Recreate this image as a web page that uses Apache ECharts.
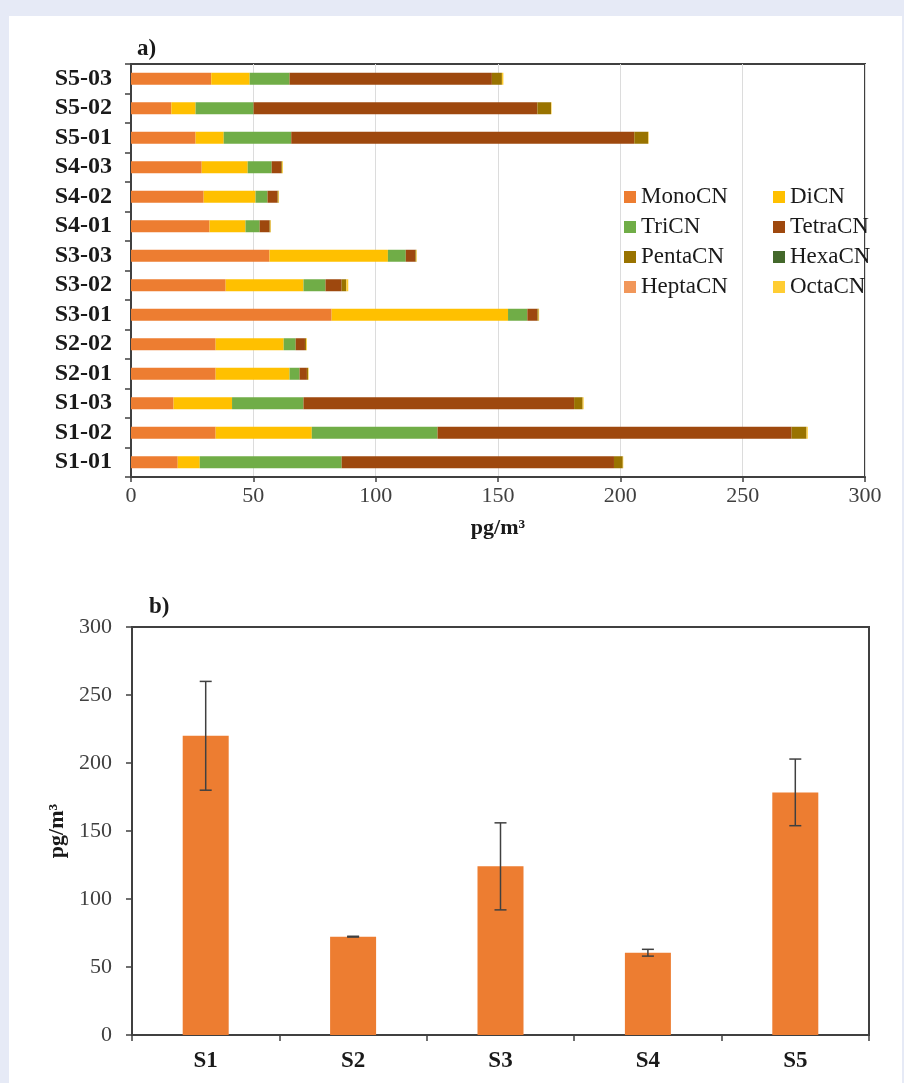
<!DOCTYPE html>
<html>
<head>
<meta charset="utf-8">
<script src="https://cdn.jsdelivr.net/npm/echarts@6/dist/echarts.min.js"></script>
<style>
  html, body { margin: 0; padding: 0; background: #e6eaf6; }
  #panel { position: absolute; left: 9px; top: 16px; width: 893px; height: 1067px; background: #fff; }
  #chart { position: absolute; left: 0; top: 0; width: 904px; height: 1083px; }
</style>
</head>
<body>
<div id="panel"></div>
<div id="chart"></div>
<script>
// a) stacked congener groups per sample
const samples = ['S1-01', 'S1-02', 'S1-03', 'S2-01', 'S2-02', 'S3-01', 'S3-02',
  'S3-03', 'S4-01', 'S4-02', 'S4-03', 'S5-01', 'S5-02', 'S5-03']
const monoCN = [19.1, 34.6, 17.4, 34.6, 34.6, 82.0, 38.7, 56.6, 32.1, 29.7, 28.9, 26.4, 16.5, 32.8]
const diCN = [9.0, 39.3, 23.9, 30.2, 27.8, 72.1, 31.8, 48.4, 14.7, 21.2, 18.8, 11.5, 9.9, 15.7]
const triCN = [58.0, 51.4, 29.2, 4.1, 4.9, 7.9, 9.0, 7.3, 5.8, 4.9, 9.8, 27.6, 23.7, 16.3]
const tetraCN = [111.3, 144.7, 110.6, 3.0, 3.8, 4.1, 6.6, 3.9, 4.0, 4.1, 3.9, 140.2, 116.0, 82.7]
const pentaCN = [3.6, 6.1, 3.5, 0.5, 0.5, 0.5, 1.9, 0.4, 0.4, 0.4, 0.4, 5.7, 5.6, 4.1]
const hexaCN = [0, 0, 0, 0, 0, 0, 0, 0, 0, 0, 0, 0, 0, 0]
const heptaCN = [0, 0, 0, 0, 0, 0, 0, 0, 0, 0, 0, 0, 0, 0]
const octaCN = [0.2, 0.5, 0.4, 0.2, 0.3, 0.2, 0.8, 0.2, 0.2, 0.2, 0.3, 0.2, 0.2, 0.6]
const xTicks = [0, 50, 100, 150, 200, 250, 300]

// b) site means with standard deviation
const sites = ['S1', 'S2', 'S3', 'S4', 'S5']
const siteMean = [220, 72.3, 124, 60.5, 178.4]
const siteSd = [40, 0.3, 32, 2.5, 24.5]
const yTicks = [0, 50, 100, 150, 200, 250, 300]

const font = 'Liberation Serif'
const axisColor = '#404040'

const groups = [
  { name: 'MonoCN', data: monoCN, color: '#ED7D31' },
  { name: 'DiCN', data: diCN, color: '#FFC000' },
  { name: 'TriCN', data: triCN, color: '#70AD47' },
  { name: 'TetraCN', data: tetraCN, color: '#9E480E' },
  { name: 'PentaCN', data: pentaCN, color: '#997300' },
  { name: 'HexaCN', data: hexaCN, color: '#43682B' },
  { name: 'HeptaCN', data: heptaCN, color: '#F1975A' },
  { name: 'OctaCN', data: octaCN, color: '#FFCD33' }
]

const legendBase = {
  orient: 'vertical',
  top: 185,
  padding: 0,
  icon: 'rect',
  itemWidth: 12,
  itemHeight: 12,
  itemGap: 6,
  selectedMode: false,
  textStyle: { fontFamily: font, fontSize: 23, lineHeight: 24, color: '#1a1a1a' }
}

const chart = echarts.init(document.getElementById('chart'))

chart.setOption({
  backgroundColor: 'transparent',
  animation: false,
  title: [
    { text: 'a)', left: 137, top: 38, padding: 0,
      textStyle: { fontFamily: font, fontSize: 23, fontWeight: 'bold', color: '#1a1a1a' } },
    { text: 'b)', left: 149, top: 596, padding: 0,
      textStyle: { fontFamily: font, fontSize: 23, fontWeight: 'bold', color: '#1a1a1a' } }
  ],
  legend: [
    Object.assign({}, legendBase, { left: 624, data: ['MonoCN', 'TriCN', 'PentaCN', 'HeptaCN'] }),
    Object.assign({}, legendBase, { left: 773, data: ['DiCN', 'TetraCN', 'HexaCN', 'OctaCN'] })
  ],
  grid: [
    { left: 131, top: 64, width: 734, height: 413, show: true,
      borderColor: axisColor, borderWidth: 2, backgroundColor: 'transparent' },
    { left: 132, top: 627, width: 737, height: 408, show: true,
      borderColor: axisColor, borderWidth: 2, backgroundColor: 'transparent' }
  ],
  xAxis: [
    {
      type: 'value', gridIndex: 0, min: xTicks[0], max: xTicks[xTicks.length - 1], interval: 50,
      axisLine: { show: true, lineStyle: { color: axisColor, width: 2 } },
      axisTick: { show: true, length: 5, lineStyle: { color: axisColor, width: 1.5 } },
      axisLabel: { fontFamily: font, fontSize: 22, color: axisColor, margin: 8 },
      splitLine: { show: true, lineStyle: { color: '#dcdcdc', width: 1 } },
      name: 'pg/m³', nameLocation: 'middle', nameGap: 40,
      nameTextStyle: { fontFamily: font, fontSize: 22, fontWeight: 'bold', color: '#1a1a1a' }
    },
    {
      type: 'category', gridIndex: 1, data: sites,
      axisLine: { show: true, lineStyle: { color: axisColor, width: 2 } },
      axisTick: { show: true, length: 6, lineStyle: { color: axisColor, width: 1.5 } },
      axisLabel: { fontFamily: font, fontSize: 23, fontWeight: 'bold', color: '#1a1a1a', margin: 15 },
      splitLine: { show: false }
    }
  ],
  yAxis: [
    {
      type: 'category', gridIndex: 0, data: samples,
      axisLine: { show: true, lineStyle: { color: axisColor, width: 2 } },
      axisTick: { show: true, length: 6, interval: 0, lineStyle: { color: axisColor, width: 1.5 } },
      axisLabel: { interval: 0, fontFamily: font, fontSize: 24, fontWeight: 'bold', color: '#1a1a1a', margin: 19 },
      splitLine: { show: false }
    },
    {
      type: 'value', gridIndex: 1, min: yTicks[0], max: yTicks[yTicks.length - 1], interval: 50,
      axisLine: { show: true, lineStyle: { color: axisColor, width: 2 } },
      axisTick: { show: true, length: 6, lineStyle: { color: axisColor, width: 1.5 } },
      axisLabel: { fontFamily: font, fontSize: 22, color: axisColor, margin: 20 },
      splitLine: { show: false },
      name: 'pg/m³', nameLocation: 'middle', nameGap: 64,
      nameTextStyle: { fontFamily: font, fontSize: 22, fontWeight: 'bold', color: '#1a1a1a' }
    }
  ],
  series: groups.map(g => ({
    name: g.name,
    type: 'bar',
    stack: 'total',
    xAxisIndex: 0,
    yAxisIndex: 0,
    barWidth: 12,
    itemStyle: { color: g.color },
    data: g.data
  })).concat([
    {
      name: 'Total',
      type: 'bar',
      xAxisIndex: 1,
      yAxisIndex: 1,
      barWidth: 46,
      itemStyle: { color: '#ED7D31' },
      data: siteMean
    },
    {
      name: 'SD',
      type: 'custom',
      xAxisIndex: 1,
      yAxisIndex: 1,
      z: 5,
      encode: { x: 0, y: [1, 2] },
      data: sites.map((s, i) => [i, siteMean[i] - siteSd[i], siteMean[i] + siteSd[i]]),
      renderItem: function (params, api) {
        const i = api.value(0)
        const lo = api.coord([i, api.value(1)])
        const hi = api.coord([i, api.value(2)])
        const hw = 6
        const style = { stroke: '#404040', lineWidth: 1.5 }
        return {
          type: 'group',
          children: [
            { type: 'line', shape: { x1: hi[0], y1: hi[1], x2: lo[0], y2: lo[1] }, style: style },
            { type: 'line', shape: { x1: hi[0] - hw, y1: hi[1], x2: hi[0] + hw, y2: hi[1] }, style: style },
            { type: 'line', shape: { x1: lo[0] - hw, y1: lo[1], x2: lo[0] + hw, y2: lo[1] }, style: style }
          ]
        }
      }
    }
  ])
})
</script>
</body>
</html>
